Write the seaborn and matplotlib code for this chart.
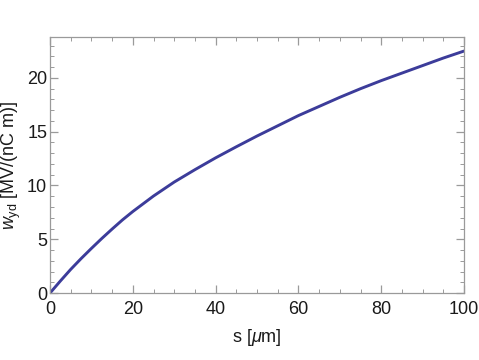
#!/usr/bin/env python
# encoding: utf-8

import numpy as np
import pandas as pd
import matplotlib
matplotlib.use('Agg')
import matplotlib.pyplot as plt
from matplotlib.ticker import MultipleLocator
import seaborn as sns


# Values
s_um = [0, 2.5, 5, 7.5, 10, 12.5, 15, 17.5, 20, 25, 30, 35, 40, 45, 50,
        55, 60, 65, 70, 75, 80, 85, 90, 95, 100]
w_yd = [0.0, 1.12, 2.2, 3.2, 4.15, 5.07, 5.95, 6.8, 7.58, 9.02, 10.32, 11.47,
        12.57, 13.6, 14.6, 15.55, 16.5, 17.35, 18.2, 19.0, 19.75, 20.45,
        21.15, 21.85, 22.5]

LINE_COLOUR = '#3c3c9a'
FRAME_COLOUR = '#9a9a9a'


def main():
    sns.set_style('ticks')
    plt.rcParams['font.family'] = ['Liberation Sans', 'DejaVu Sans']
    plt.rcParams['mathtext.fontset'] = 'custom'
    plt.rcParams['mathtext.rm'] = 'Liberation Sans'
    plt.rcParams['mathtext.it'] = 'Liberation Sans:italic'

    df = pd.DataFrame({'s': s_um, 'w': w_yd})

    fig = plt.figure(figsize=(4.79, 3.6), dpi=100)
    ax = fig.add_axes([0.1044, 0.186, 0.8643, 0.711])

    sns.lineplot(data=df, x='s', y='w', ax=ax, color=LINE_COLOUR,
                 linewidth=2.1, solid_joinstyle='round')

    ax.set_xlim(0, 100)
    ax.set_ylim(0, 23.8)
    ax.xaxis.set_major_locator(MultipleLocator(20))
    ax.xaxis.set_minor_locator(MultipleLocator(5))
    ax.yaxis.set_major_locator(MultipleLocator(5))
    ax.yaxis.set_minor_locator(MultipleLocator(1))

    # ticks inside, on all four sides, like the reference frame
    ax.tick_params(which='both', direction='in', top=True, right=True,
                   color=FRAME_COLOUR, labelsize=13, labelcolor='#1a1a1a')
    ax.tick_params(which='major', length=6, width=0.9)
    ax.tick_params(which='minor', length=3, width=0.7)
    ax.tick_params(axis='x', pad=6)
    ax.tick_params(axis='y', pad=2)
    for sp in ax.spines.values():
        sp.set_visible(True)
        sp.set_color(FRAME_COLOUR)
        sp.set_linewidth(0.9)

    ax.set_xlabel(r's [$\mu$m]', fontsize=13, color='#1a1a1a', labelpad=6)
    ax.set_ylabel(r'$w_{\rm yd}$ [MV/(nC m)]', fontsize=13, color='#1a1a1a',
                  labelpad=3)

    fig.savefig('out.png', dpi=100)


if __name__ == '__main__':
    main()
